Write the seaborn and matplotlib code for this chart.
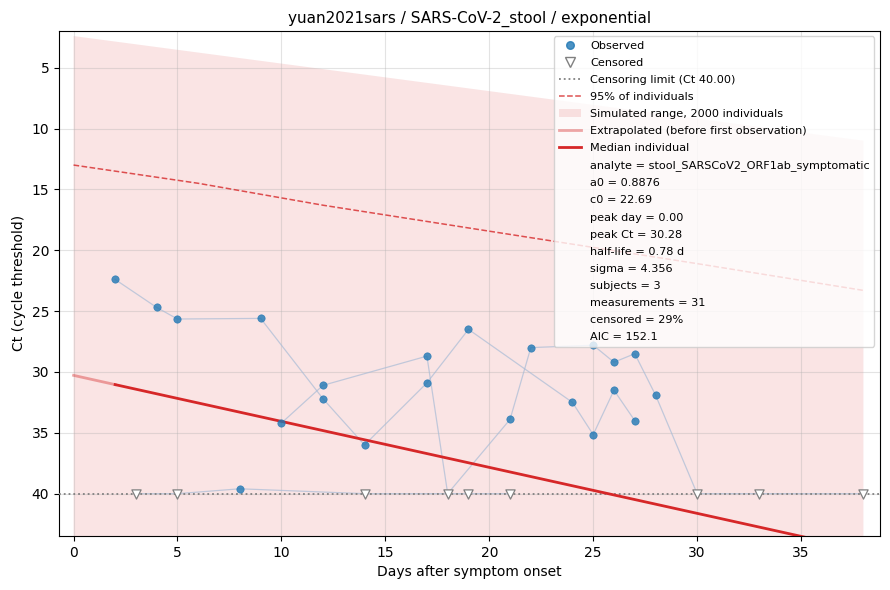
import numpy as np
import pandas as pd
import matplotlib
matplotlib.use("Agg")
import matplotlib.pyplot as plt
from matplotlib.lines import Line2D
from matplotlib.patches import Patch
import seaborn as sns

# measurements per subject (censored values sit at the limit, Ct 40)
subj1_days = [2, 4, 5, 9, 12, 14, 17, 19, 24, 25, 26, 27]
subj1_ct = [22.4, 24.7, 25.65, 25.6, 32.2, 36.0, 30.9, 26.5, 32.5, 35.15, 31.5, 34.0]
subj1_cens = [0, 0, 0, 0, 0, 0, 0, 0, 0, 0, 0, 0]

subj2_days = [10, 12, 17, 18, 21, 22, 25, 26, 27, 28, 30, 33, 38]
subj2_ct = [34.2, 31.1, 28.7, 40.0, 33.9, 28.0, 27.8, 29.2, 28.5, 31.9, 40.0, 40.0, 40.0]
subj2_cens = [0, 0, 0, 1, 0, 0, 0, 0, 0, 0, 1, 1, 1]

subj3_days = [3, 5, 8, 14, 19, 21]
subj3_ct = [40.0, 40.0, 39.6, 40.0, 40.0, 40.0]
subj3_cens = [1, 1, 0, 1, 1, 1]

# model curves
median_days = [0, 2, 38]
median_ct = [30.28, 31.04, 44.64]
p95_days = [0, 6, 12, 18, 24, 30, 38]
p95_ct = [13.0, 14.5, 16.3, 17.9, 19.5, 21.1, 23.3]
band_days = [0, 38]
band_top = [2.40, 11.0]
band_bottom = [60.0, 70.0]

censor_limit = 40.0
first_obs_day = 2

fit_info = [
    "analyte = stool_SARSCoV2_ORF1ab_symptomatic",
    "a0 = 0.8876",
    "c0 = 22.69",
    "peak day = 0.00",
    "peak Ct = 30.28",
    "half-life = 0.78 d",
    "sigma = 4.356",
    "subjects = 3",
    "measurements = 31",
    "censored = 29%",
    "AIC = 152.1",
]

frames = []
for sid, (d, c, k) in enumerate([(subj1_days, subj1_ct, subj1_cens),
                                 (subj2_days, subj2_ct, subj2_cens),
                                 (subj3_days, subj3_ct, subj3_cens)], start=1):
    frames.append(pd.DataFrame({"subject": sid, "day": d, "ct": c, "censored": k}))
df = pd.concat(frames, ignore_index=True)
obs = df[df["censored"] == 0]
cens = df[df["censored"] == 1]

red = "#d62728"
blue = "#1f77b4"

fig, ax = plt.subplots(figsize=(8.9, 5.9), dpi=100)

ax.fill_between(band_days, band_top, band_bottom, color=red, alpha=0.12, linewidth=0, zorder=1)

sns.lineplot(data=df, x="day", y="ct", units="subject", estimator=None, sort=True,
             color="#a9bcd6", alpha=0.7, linewidth=0.9, ax=ax, zorder=2, legend=False)

ax.axhline(censor_limit, color="gray", linestyle=":", linewidth=1.3, zorder=3)

ax.plot(p95_days, p95_ct, linestyle="--", color=red, alpha=0.8, linewidth=1.1, zorder=3)

ext = [d for d in median_days if d <= first_obs_day]
ax.plot(ext, median_ct[:len(ext)], color=red, alpha=0.4, linewidth=2, zorder=4)
ax.plot(median_days[1:], median_ct[1:], color=red, linewidth=2, zorder=4)

sns.scatterplot(data=obs, x="day", y="ct", color=blue, alpha=0.8, s=28,
                edgecolor=blue, linewidth=0.5, ax=ax, zorder=5, legend=False)
sns.scatterplot(data=cens, x="day", y="ct", marker="v", s=44, facecolor="white",
                edgecolor="gray", linewidth=0.9, ax=ax, zorder=5, legend=False)

ax.set_xlim(-0.7, 38.8)
ax.set_ylim(43.48, 1.96)
ax.grid(True, alpha=0.35)
ax.set_xlabel("Days after symptom onset")
ax.set_ylabel("Ct (cycle threshold)")
ax.set_title("yuan2021sars / SARS-CoV-2_stool / exponential", fontsize=11)

handles = [
    Line2D([], [], marker="o", linestyle="none", color=blue, alpha=0.8, markersize=5.5),
    Line2D([], [], marker="v", linestyle="none", markerfacecolor="white",
           markeredgecolor="gray", markersize=6.5),
    Line2D([], [], color="gray", linestyle=":", linewidth=1.3),
    Line2D([], [], color=red, alpha=0.8, linestyle="--", linewidth=1.1),
    Patch(facecolor=red, alpha=0.12, linewidth=0),
    Line2D([], [], color=red, alpha=0.4, linewidth=2),
    Line2D([], [], color=red, linewidth=2),
]
labels = [
    "Observed",
    "Censored",
    f"Censoring limit (Ct {censor_limit:.2f})",
    "95% of individuals",
    "Simulated range, 2000 individuals",
    "Extrapolated (before first observation)",
    "Median individual",
]
for line in fit_info:
    handles.append(Line2D([], [], linestyle="none"))
    labels.append(line)

leg = ax.legend(handles, labels, loc="upper right", fontsize=8.1, labelspacing=0.63)
leg.set_zorder(10)

fig.subplots_adjust(left=0.0663, right=0.9888, top=0.948, bottom=0.0915)
fig.savefig("out.png", dpi=100)
